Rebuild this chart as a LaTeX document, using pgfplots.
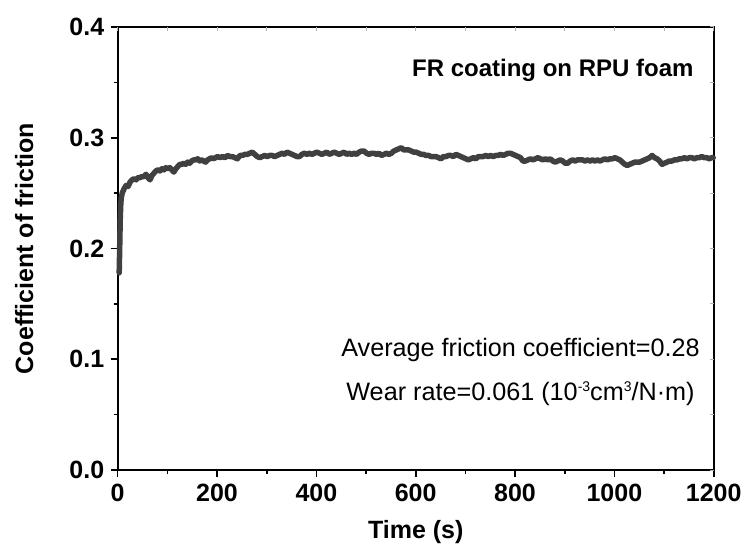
\documentclass[border=0pt]{standalone}
\usepackage{fontspec}
\setmainfont{Liberation Sans}
\usepackage{pgfplots}
\pgfplotsset{compat=1.18}
\definecolor{curve}{HTML}{404040}
\newcommand{\sups}[1]{\raisebox{8.5bp}{\fontsize{14bp}{15bp}\selectfont #1}}
\begin{document}
\begin{tikzpicture}
\begin{axis}[
  at={(0,0)}, anchor=south west,
  scale only axis, width=596bp, height=443bp,
  xmin=0, xmax=1200, ymin=0, ymax=0.4,
  xtick={0,200,400,600,800,1000,1200},
  ytick={0,0.1,0.2,0.3,0.4},
  minor x tick num=1, minor y tick num=1,
  /pgf/number format/1000 sep={},
  /pgf/number format/assume math mode=true,
  yticklabel style={/pgf/number format/.cd, fixed, fixed zerofill, precision=1, /tikz/xshift=-3bp},
  xticklabel style={yshift=-4bp},
  tick align=outside, xtick pos=left, ytick pos=left,
  major tick length=7bp, minor tick length=4bp,
  every tick/.style={black, line width=1.6bp},
  axis line style={line width=1.8bp},
  tick label style={font=\fontsize{25bp}{29bp}\selectfont\bfseries},
  xlabel={Time (s)}, ylabel={Coefficient of friction},
  label style={font=\fontsize{25bp}{29bp}\selectfont\bfseries},
  xlabel style={at={(axis description cs:0.5,-0.1535)}, anchor=base},
  ylabel style={at={(axis description cs:-0.157,0.5)}, anchor=center},
  clip=false,
]
\addplot[color=curve, line width=5.5bp, line join=round, line cap=round] table {
3 0.178
4 0.200
5 0.225
6 0.238
7 0.245
9 0.250
13 0.254
17 0.257
21 0.256
25 0.260
29 0.262
33 0.263
37 0.262
41 0.264
45 0.264
49 0.265
53 0.265
57 0.267
61 0.264
65 0.262
69 0.266
73 0.268
77 0.270
81 0.271
85 0.270
89 0.272
93 0.271
97 0.273
101 0.272
105 0.273
109 0.271
113 0.269
117 0.272
121 0.274
125 0.276
129 0.276
133 0.277
137 0.276
141 0.278
145 0.277
149 0.279
153 0.280
157 0.280
161 0.281
165 0.279
169 0.280
173 0.279
177 0.278
181 0.280
185 0.281
189 0.282
193 0.281
197 0.282
201 0.283
206 0.282
211 0.283
216 0.282
221 0.284
226 0.283
231 0.283
236 0.282
241 0.281
246 0.284
251 0.284
256 0.285
261 0.285
266 0.286
271 0.287
276 0.285
281 0.283
286 0.282
291 0.283
296 0.284
301 0.283
306 0.284
311 0.284
316 0.283
321 0.284
326 0.285
331 0.286
336 0.285
341 0.287
346 0.286
351 0.285
356 0.284
361 0.283
366 0.283
371 0.285
376 0.286
381 0.285
386 0.286
391 0.285
396 0.286
401 0.287
406 0.286
411 0.285
416 0.286
421 0.287
426 0.285
431 0.286
436 0.287
441 0.286
446 0.285
451 0.286
456 0.287
461 0.285
466 0.286
471 0.285
476 0.286
481 0.285
486 0.287
491 0.288
496 0.288
501 0.286
506 0.285
511 0.286
516 0.286
521 0.285
526 0.286
531 0.284
536 0.285
541 0.286
546 0.285
551 0.286
556 0.288
561 0.289
566 0.290
571 0.291
576 0.289
581 0.289
586 0.289
591 0.288
596 0.287
601 0.287
606 0.286
611 0.285
616 0.285
621 0.284
626 0.284
631 0.283
636 0.283
641 0.283
646 0.282
651 0.281
656 0.283
661 0.283
666 0.284
671 0.284
676 0.283
681 0.285
686 0.284
691 0.283
696 0.282
701 0.281
706 0.280
711 0.281
716 0.282
721 0.281
726 0.283
731 0.283
736 0.283
741 0.284
746 0.283
751 0.284
756 0.283
761 0.284
766 0.284
771 0.285
776 0.284
781 0.285
786 0.286
791 0.286
796 0.285
801 0.284
806 0.283
811 0.282
816 0.279
821 0.279
826 0.280
831 0.281
836 0.280
841 0.281
846 0.282
851 0.281
856 0.280
861 0.281
866 0.280
871 0.281
876 0.279
881 0.278
886 0.279
891 0.280
896 0.279
901 0.277
906 0.277
911 0.279
916 0.280
921 0.279
926 0.280
931 0.280
936 0.280
941 0.279
946 0.280
951 0.279
956 0.280
961 0.279
966 0.280
971 0.279
976 0.280
981 0.281
986 0.280
991 0.281
996 0.281
1001 0.282
1006 0.281
1011 0.280
1016 0.278
1021 0.276
1026 0.275
1031 0.276
1036 0.277
1041 0.278
1046 0.278
1051 0.278
1056 0.279
1061 0.280
1066 0.281
1071 0.282
1076 0.284
1081 0.282
1086 0.281
1091 0.279
1096 0.276
1101 0.277
1106 0.278
1111 0.279
1116 0.279
1121 0.280
1126 0.280
1131 0.281
1136 0.281
1141 0.282
1146 0.281
1151 0.282
1156 0.282
1161 0.281
1166 0.282
1171 0.282
1176 0.283
1181 0.282
1186 0.282
1191 0.281
1196 0.282
1199 0.282
};
\node[anchor=base, font=\fontsize{24bp}{28bp}\selectfont\bfseries, inner sep=0pt] at (axis cs:876,0.3557) {FR coating on RPU foam};
\node[anchor=base, font=\fontsize{25.2bp}{29bp}\selectfont, inner sep=0pt] at (axis cs:811,0.1029) {Average friction coefficient=0.28};
\node[anchor=base, font=\fontsize{25.2bp}{29bp}\selectfont, inner sep=0pt] at (axis cs:811,0.0632) {Wear rate=0.061 (10\sups{-3}cm\sups{3}/N·m)};
\end{axis}
\begin{axis}[
  at={(0,0)}, anchor=south west,
  scale only axis, width=596bp, height=443bp,
  xmin=0, xmax=1200, ymin=0, ymax=0.4,
  xtick={0,200,400,600,800,1000,1200},
  ytick={0,0.1,0.2,0.3,0.4},
  minor x tick num=1, minor y tick num=1,
  xticklabels={}, yticklabels={},
  tick align=inside, xtick pos=right, ytick pos=right,
  major tick length=4bp, minor tick length=4bp,
  every tick/.style={black!30, line width=1bp},
  axis line style={draw=none},
]
\end{axis}
\pgfresetboundingbox
\path[use as bounding box] (-117.7bp,-74bp) rectangle (627.3bp,470bp);
\end{tikzpicture}
\end{document}
